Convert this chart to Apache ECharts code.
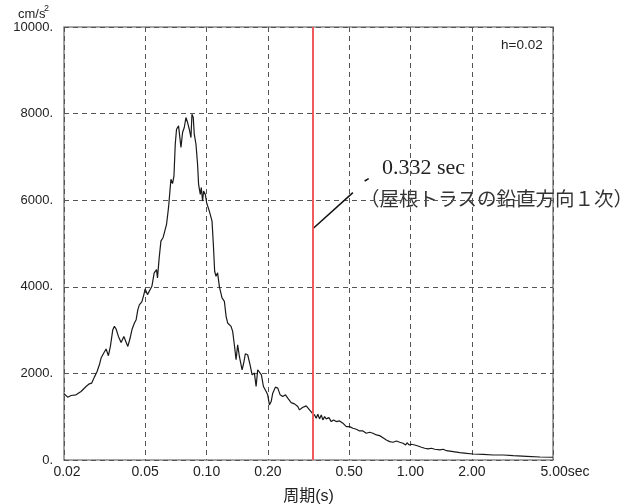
<!DOCTYPE html>
<html>
<head>
<meta charset="utf-8">
<script src="https://cdn.jsdelivr.net/npm/echarts@6/dist/echarts.min.js"></script>
<style>html,body{margin:0;padding:0;background:#fff;}#c{width:627px;height:504px;}</style>
</head>
<body>
<div id="c"></div>
<script>
// Periods (s)
const periods = [0.02,0.02086,0.02165,0.02291,0.02424,0.02565,0.02663,0.02736,0.02818,0.02906,
0.02982,0.0304,0.03134,0.03217,0.03302,0.03377,0.0347,0.03534,0.03602,0.03697,
0.03812,0.0393,0.04002,0.04112,0.0422,0.04317,0.04431,0.04516,0.04605,0.04688,
0.04817,0.04928,0.05,0.05133,0.05233,0.05395,0.05538,0.05684,0.05748,0.05859,
0.05974,0.06132,0.06271,0.06365,0.0651,0.06689,0.06812,0.06921,0.07024,0.07127,
0.07291,0.07492,0.07628,0.07777,0.07926,0.08071,0.08228,0.08387,0.08482,0.08608,
0.08706,0.08876,0.09037,0.09142,0.09318,0.09424,0.09564,0.09672,0.09861,0.1001,
0.1032,0.1064,0.108,0.1096,0.1113,0.1133,0.1156,0.1191,0.1223,0.1247,
0.1269,0.1319,0.1343,0.1369,0.1396,0.1421,0.1449,0.1494,0.1521,0.155,
0.1591,0.1635,0.1673,0.1717,0.175,0.1782,0.1817,0.1858,0.1901,0.196,
0.1995,0.2034,0.2074,0.2112,0.2177,0.2235,0.2296,0.2365,0.2438,0.2502,
0.26,0.2699,0.2802,0.2857,0.2955,0.3082,0.3199,0.3298,0.3385,0.3451,
0.3514,0.3583,0.3652,0.3719,0.3791,0.3864,0.398,0.4089,0.4197,0.4327,
0.4492,0.4663,0.4846,0.503,0.5221,0.5426,0.5632,0.5846,0.6076,0.6307,
0.6547,0.6804,0.7062,0.733,0.7617,0.7908,0.8209,0.8532,0.8856,0.9192,
0.9478,0.9619,0.9839,1.011,1.049,1.089,1.132,1.175,1.22,1.268,
1.316,1.393,1.446,1.502,1.619,1.746,1.884,2.03,2.273,2.545,
2.85,3.192,3.715,4.318,5.0];
// Spectral acceleration (cm/s^2)
const accel = [1530,1451,1489,1505,1581,1697,1759,1776,1914,2044,
2199,2354,2470,2563,2408,2623,3010,3086,3026,2854,
2715,2854,2894,2623,2817,3026,3165,3241,3473,3588,
3651,3820,3950,3820,3780,4012,4322,4398,4206,4669,
5054,5146,5169,5440,5827,6482,6382,6558,7292,7639,
7716,7216,7563,7679,7910,7795,7639,7447,7987,7910,
7524,7292,6829,6366,6135,6290,5980,6211,6135,5942,
5748,5517,4977,4359,4243,4322,4005,3743,3665,3317,
3165,3086,2970,2662,2315,2662,2391,2084,2239,2454,
2431,2199,1968,2007,1697,2084,2123,1968,1697,1581,
1505,1273,1350,1544,1683,1660,1505,1465,1505,1428,
1326,1296,1234,1157,1211,1250,1157,1081,1042,965,
1058,949,1042,926,1002,949,979,887,926,887,
903,850,771,771,734,711,671,671,618,641,
618,579,563,516,463,424,410,440,410,387,
347,400,347,363,347,324,294,271,255,271,
248,232,248,215,192,169,155,139,132,116,
116,100,86,69,63];
const xTicks = [0.02,0.05,0.10,0.20,0.50,1.00,2.00,5.00];
const yTicks = [0,2000,4000,6000,8000,10000];
const markPeriod = 0.332;
const leader = [[0.332,5340],[0.522,6175]];
const leaderTick = [[0.596,6443],[0.624,6498]];

const chart = echarts.init(document.getElementById('c'), null, {renderer:'canvas'});
const gridStyle = {color:'#555', width:1, type:[5,4]};
chart.setOption({
  animation:false,
  backgroundColor:'#fff',
  grid:{left:64,right:74,top:27,bottom:44,show:true,borderColor:'#8a8a8a',borderWidth:1.6,
        backgroundColor:'transparent',containLabel:false,outerBoundsMode:'none'},
  xAxis:{
    type:'log', logBase:10, min:0.02, max:5,
    name:'周期(s)', nameLocation:'middle', nameGap:29,
    nameTextStyle:{fontFamily:'Liberation Sans, "Noto Sans CJK JP"',fontSize:16,color:'#222'},
    axisLine:{show:false}, axisTick:{show:false, customValues:xTicks},
    splitLine:{show:true,lineStyle:gridStyle},
    minorSplitLine:{show:false},
    axisLabel:{customValues:xTicks, margin:5, fontFamily:'Liberation Sans', fontSize:14, color:'#222',
      formatter:function(v){
        if (Math.abs(v-5)<1e-6) return '{e|5.00}{s|sec}';
        if (Math.abs(v-0.02)<1e-6) return '{f|0.02}';
        return v.toFixed(2);
      },
      rich:{e:{fontFamily:'Liberation Sans',fontSize:14,color:'#222',padding:[0,0,0,24]},
            s:{fontFamily:'Liberation Sans',fontSize:14,color:'#222'},
            f:{fontFamily:'Liberation Sans',fontSize:14,color:'#222',padding:[0,0,0,6]}}}
  },
  yAxis:{
    type:'value', min:0, max:10000, interval:2000,
    axisLine:{show:false}, axisTick:{show:false},
    splitLine:{show:true,lineStyle:gridStyle},
    axisLabel:{margin:11, fontFamily:'Liberation Sans', fontSize:13, color:'#222',
      formatter:function(v){return v+'.';}}
  },
  graphic:[
    {type:'text',left:18,top:8,style:{text:'cm/s',font:'13px "Liberation Sans"',fill:'#222'}},
    {type:'text',left:44,top:4,style:{text:'2',font:'9px "Liberation Sans"',fill:'#222'}},
    {type:'text',left:501,top:38,style:{text:'h=0.02',font:'13.5px "Liberation Sans"',fill:'#222'}},
    {type:'text',left:382,top:157,style:{text:'0.332 sec',font:'22px "Liberation Serif"',fill:'#222'}},
    {type:'text',left:360,top:189,style:{text:'（屋根トラスの鉛直方向１次）',font:'19.5px "Noto Sans CJK JP"',fill:'#333'}}
  ],
  series:[{
    type:'line', data:periods.map((p,i)=>[p,accel[i]]), symbol:'none', smooth:false,
    lineStyle:{color:'#1a1a1a',width:1.2}, z:3,
    markLine:{silent:true, symbol:'none', label:{show:false}, animation:false,
      data:[
        [{coord:leader[0],lineStyle:{color:'#111',width:1.5,type:'solid'}},{coord:leader[1]}],
        [{coord:leaderTick[0],lineStyle:{color:'#111',width:1.5,type:'solid'}},{coord:leaderTick[1]}],
        {xAxis:markPeriod,lineStyle:{color:'#f05a5a',width:2,type:'solid'}}
      ]}
  }]
});
</script>
</body>
</html>
